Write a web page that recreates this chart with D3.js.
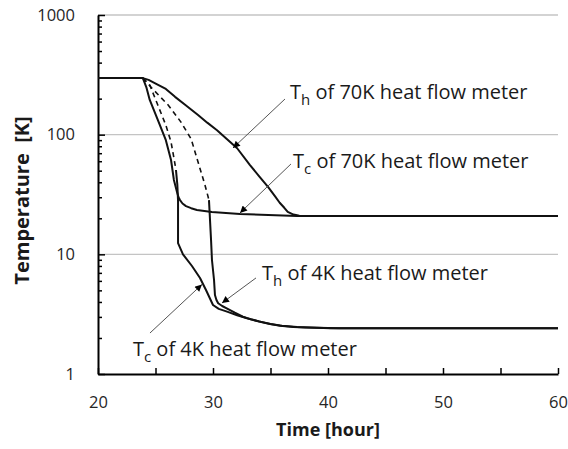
<!DOCTYPE html>
<html><head><meta charset="utf-8">
<script src="https://cdn.jsdelivr.net/npm/d3@7"></script>
<style>body{margin:0;background:#fff;} svg{display:block;font-family:"Open Sans",sans-serif;}</style>
</head><body><svg id="c" width="568" height="449"></svg>
<script>
// ---- data (time in hours, temperature in K) ----
const timeTh70 = [20, 23.9, 24.4, 25.1, 25.9, 26.7, 27.6, 28.7, 29.5, 30.35, 31.2, 32.1, 33.2, 34.0, 34.8, 35.4, 35.8, 36.2, 36.5, 37.0, 37.5, 38.5, 60];
const tempTh70 = [297, 297, 287, 265, 241, 207, 177, 146, 126, 109, 92, 77, 56, 45, 36.5, 30.5, 27, 24.5, 22.6, 21.5, 21.0, 20.9, 20.9];

const timeTc70 = [20, 23.9, 24.2, 24.5, 25.2, 25.9, 26.35, 26.6, 26.87, 27.0, 27.13, 27.35, 27.65, 28.1, 28.6, 29.9, 32.35, 37.3, 60];
const tempTc70 = [297, 297, 250, 195, 133, 90, 61.4, 41.8, 33.2, 30, 28.4, 26.6, 25.3, 24.3, 23.5, 22.6, 21.7, 20.9, 20.9];

const timeTc4Dashed = [23.9, 24.5, 25.2, 25.9, 26.35, 26.6, 26.78];
const tempTc4Dashed = [297, 260, 177, 120, 87, 64, 50.7];
const timeTc4 = [26.78, 26.9, 26.96, 26.96, 27.39, 28.17, 28.87, 29.39, 30.0, 30.5, 31.22, 32.1, 32.96, 34.0, 34.96, 36.0, 37.3, 40.2, 60];
const tempTc4 = [50.7, 38, 28, 12.4, 10, 7.99, 6.35, 5.03, 3.77, 3.5, 3.32, 3.1, 2.92, 2.75, 2.62, 2.53, 2.47, 2.41, 2.41];

const timeTh4Dashed = [23.9, 24.6, 26.1, 27.2, 28.1, 28.7, 29.3, 29.65];
const tempTh4Dashed = [297, 250, 177, 128, 92, 59, 38, 28.4];
const timeTh4 = [29.65, 29.83, 29.91, 30.09, 30.17, 30.3, 30.45, 30.8, 31.19, 31.9, 32.6, 33.3, 34.09, 35.0, 35.83, 37.0, 38.0, 41.0, 60];
const tempTh4 = [28.4, 13.2, 8.97, 6.1, 4.57, 4.15, 3.9, 3.7, 3.54, 3.25, 3.01, 2.86, 2.74, 2.62, 2.53, 2.47, 2.45, 2.41, 2.41];

const xTicks = [20, 25, 30, 35, 40, 45, 50, 55, 60];
const xTickLabels = ["20", "", "30", "", "40", "", "50", "", "60"];
const yDecades = [1, 10, 100, 1000];
const yTickLabels = ["1", "10", "100", "1000"];
const yGrid = [10, 100, 1000];

const labelMain = ["T", "T", "T", "T"];
const labelSub = ["h", "c", "h", "c"];
const labelRest = [" of 70K heat flow meter", " of 70K heat flow meter", " of 4K heat flow meter", " of 4K heat flow meter"];
const labelTime = [36.7, 36.96, 34.26, 23.04];
const labelTemp = [198.6, 52.7, 6.1, 1.41];
const arrowFromTime = [36.26, 36.78, 33.74, 24.52];
const arrowFromTemp = [198.6, 56.9, 6.35, 2.2];
const arrowToTime = [31.74, 32.35, 30.78, 29.04];
const arrowToTemp = [77.4, 22.2, 3.92, 5.6];

// ---- chart ----
const svg = d3.select("#c");
const x = d3.scaleLinear().domain([20, 60]).range([98, 558]);
const y = d3.scaleLog().domain([1, 1000]).range([374, 15]);

// gridlines
svg.append("g").selectAll("line").data(yGrid).join("line")
  .attr("x1", x(20)).attr("x2", x(60))
  .attr("y1", d => y(d)).attr("y2", d => y(d))
  .attr("stroke", "#c4c4c4").attr("stroke-width", 1.3);

// minor y ticks
const minor = [];
for (let e = 0; e < 3; e++) for (let m = 2; m <= 9; m++) minor.push(m * Math.pow(10, e));
svg.append("g").attr("transform", `translate(${x(20)},0)`)
  .call(d3.axisLeft(y).tickValues(minor).tickFormat("").tickSize(-4))
  .call(g => g.select(".domain").remove())
  .call(g => g.selectAll("line").attr("stroke", "#000").attr("stroke-width", 1.5));

// major y axis
svg.append("g").attr("transform", `translate(${x(20)},0)`)
  .call(d3.axisLeft(y).tickValues(yDecades).tickFormat((d, i) => yTickLabels[i]).tickSize(-7).tickSizeOuter(0).tickPadding(23))
  .call(g => g.select(".domain").attr("stroke", "#000").attr("stroke-width", 2))
  .call(g => g.selectAll("line").attr("stroke", "#000").attr("stroke-width", 1.5))
  .call(g => g.selectAll("text").attr("font-size", 16.5).attr("fill", "#262626").attr("font-family", "Open Sans"));

// x axis
svg.append("g").attr("transform", `translate(0,${y(1)})`)
  .call(d3.axisBottom(x).tickValues(xTicks).tickFormat((d, i) => xTickLabels[i]).tickSize(-6).tickSizeOuter(0).tickPadding(22))
  .call(g => g.select(".domain").attr("stroke", "#000").attr("stroke-width", 2))
  .call(g => g.selectAll("line").attr("stroke", "#000").attr("stroke-width", 1.5))
  .call(g => g.selectAll("text").attr("font-size", 16.5).attr("fill", "#262626").attr("font-family", "Open Sans"));

// axis titles
svg.append("text").attr("x", (x(20) + x(60)) / 2).attr("y", 436)
  .attr("text-anchor", "middle").attr("font-size", 18).attr("font-weight", "bold").attr("fill", "#1a1a1a")
  .text("Time [hour]");
svg.append("text").attr("transform", `translate(29,${(y(1) + y(1000)) / 2 + 6}) rotate(-90)`)
  .attr("text-anchor", "middle").attr("font-size", 20).attr("font-weight", "bold").attr("fill", "#1a1a1a")
  .attr("xml:space", "preserve")
  .text("Temperature  [K]");

// curves
const line = d3.line().x(d => x(d[0])).y(d => y(d[1])).curve(d3.curveLinear);
const zip = (a, b) => a.map((v, i) => [v, b[i]]);
const solid = [[timeTh70, tempTh70], [timeTc70, tempTc70], [timeTc4, tempTc4], [timeTh4, tempTh4]];
const dashed = [[timeTc4Dashed, tempTc4Dashed], [timeTh4Dashed, tempTh4Dashed]];
svg.append("g").selectAll("path").data(dashed).join("path")
  .attr("d", d => line(zip(d[0], d[1])))
  .attr("fill", "none").attr("stroke", "#111").attr("stroke-width", 1.6).attr("stroke-dasharray", "5,4");
svg.append("g").selectAll("path").data(solid).join("path")
  .attr("d", d => line(zip(d[0], d[1])))
  .attr("fill", "none").attr("stroke", "#111").attr("stroke-width", 2).attr("stroke-linejoin", "round");

// arrows
svg.append("defs").append("marker").attr("id", "ah")
  .attr("viewBox", "0 0 10 10").attr("refX", 10).attr("refY", 5)
  .attr("markerWidth", 9).attr("markerHeight", 7).attr("markerUnits", "userSpaceOnUse")
  .attr("orient", "auto")
  .append("path").attr("d", "M0,0L10,5L0,10z").attr("fill", "#000");
svg.append("g").selectAll("line").data(arrowFromTime).join("line")
  .attr("x1", (d, i) => x(d)).attr("y1", (d, i) => y(arrowFromTemp[i]))
  .attr("x2", (d, i) => x(arrowToTime[i])).attr("y2", (d, i) => y(arrowToTemp[i]))
  .attr("stroke", "#555").attr("stroke-width", 1).attr("marker-end", "url(#ah)");

// labels
const lab = svg.append("g").selectAll("text").data(labelMain).join("text")
  .attr("x", (d, i) => x(labelTime[i])).attr("y", (d, i) => y(labelTemp[i]))
  .attr("font-size", 20).attr("fill", "#1a1a1a").attr("xml:space", "preserve");
lab.append("tspan").text(d => d);
lab.append("tspan").attr("dy", 6).attr("font-size", 15).text((d, i) => labelSub[i]);
lab.append("tspan").attr("dy", -6).text((d, i) => labelRest[i]);
</script></body></html>
